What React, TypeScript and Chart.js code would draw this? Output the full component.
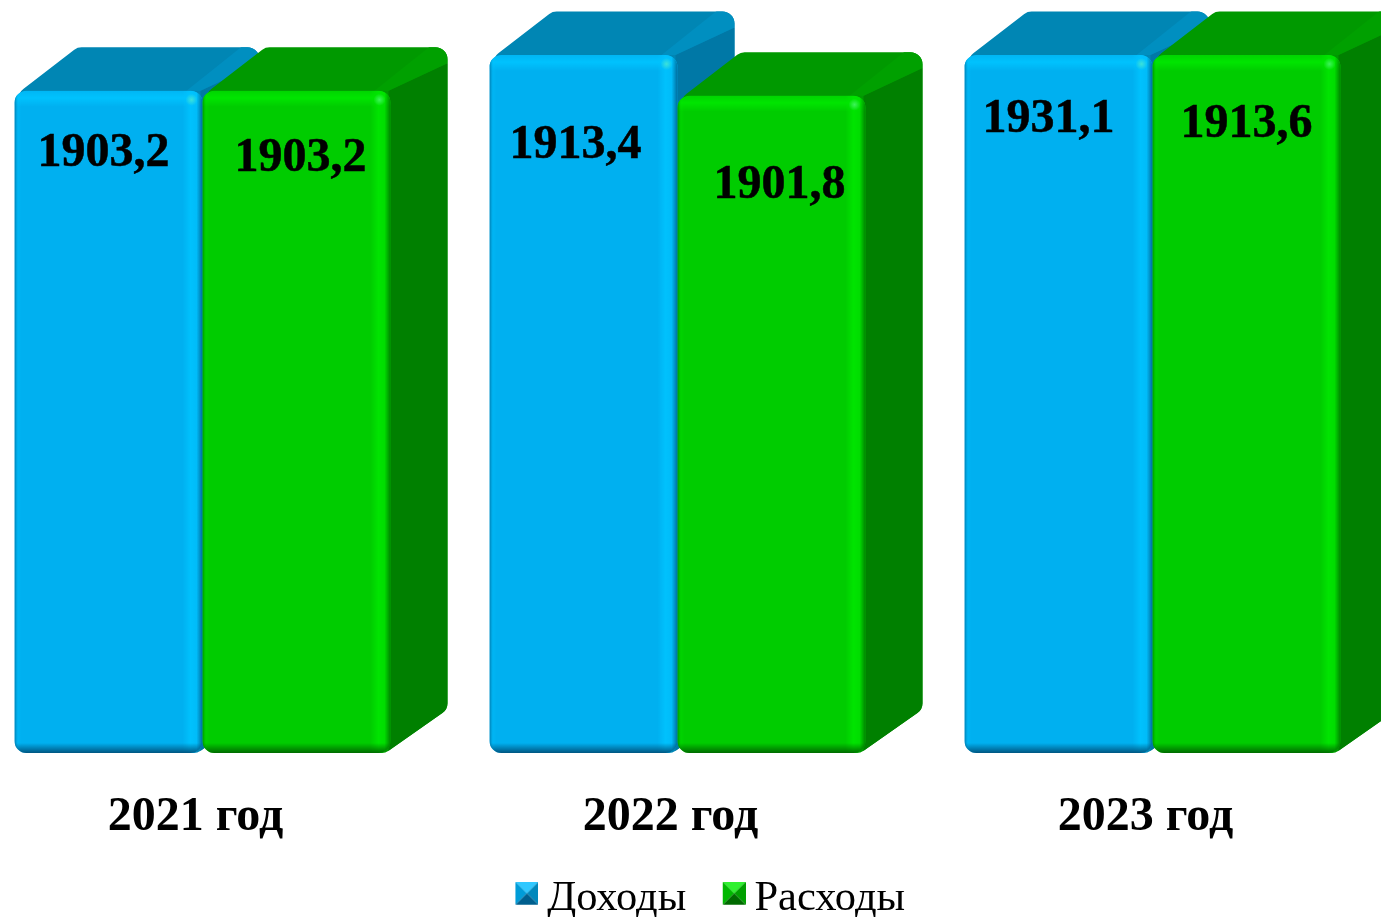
import React, { useEffect, useRef } from "react";
import { Chart, registerables } from "chart.js";

Chart.register(...registerables);

const categories = ["2021 год", "2022 год", "2023 год"];
const income = [1903.2, 1913.4, 1931.1];
const expense = [1903.2, 1901.8, 1913.6];
const seriesNames = ["Доходы", "Расходы"];

const FONT = '"Liberation Serif", "Times New Roman", serif';
const DEPTH_X = 57;
const DEPTH_Y = 43.5;
const RADIUS = 12;
const CANVAS_LEFT = -35;

const palettes = [
  { front: "#00B0F0", top: "#0086B4", strip: "#008FC0", side: "#0078A6", light: "0,196,255", dark: "0,70,110", icon: ["#30C8FF", "#009CD8", "#0088BC", "#005F8E"] },
  { front: "#00CC00", top: "#009900", strip: "#00A000", side: "#008000", light: "0,232,0", dark: "0,90,0", icon: ["#30F030", "#00B800", "#00A000", "#006A00"] },
];
// label placement relative to the top-centre of each bar, per series
const labelDx = [[-5, -8, -10], [4, 8, 0]];
const labelDy = [[63, 91, 65], [68, 90, 70]];

function roundedPoly(ctx: CanvasRenderingContext2D, pts: number[][], r: number) {
  const n = pts.length;
  ctx.beginPath();
  const m = [(pts[n - 1][0] + pts[0][0]) / 2, (pts[n - 1][1] + pts[0][1]) / 2];
  ctx.moveTo(m[0], m[1]);
  for (let i = 0; i < n; i++) {
    const a = pts[i];
    const b = pts[(i + 1) % n];
    ctx.arcTo(a[0], a[1], b[0], b[1], r);
  }
  ctx.closePath();
}

function barBoxes(chart: any, index: number) {
  const meta = chart.getDatasetMeta(index);
  const { top, bottom } = chart.chartArea;
  return meta.data.map((el: any) => {
    const p = el.getProps(["x", "y", "base", "width"], true);
    return { x0: p.x - p.width / 2, x1: p.x + p.width / 2, y0: Math.max(p.y, top), y1: Math.min(p.base, bottom) };
  });
}

function makeIcon(colors: string[]) {
  const s = 23;
  const padLeft = 4;
  const padBottom = 12;
  const c = document.createElement("canvas");
  c.width = s + padLeft;
  c.height = s + padBottom;
  const g = c.getContext("2d")!;
  g.translate(padLeft, 0);
  const tri = (pts: number[][], col: string) => {
    g.fillStyle = col;
    g.beginPath();
    g.moveTo(pts[0][0], pts[0][1]);
    g.lineTo(pts[1][0], pts[1][1]);
    g.lineTo(pts[2][0], pts[2][1]);
    g.closePath();
    g.fill();
  };
  const m = s / 2;
  tri([[0, 0], [s, 0], [m, m]], colors[0]);
  tri([[0, 0], [0, s], [m, m]], colors[1]);
  tri([[s, 0], [s, s], [m, m]], colors[2]);
  tri([[0, s], [s, s], [m, m]], colors[3]);
  return c;
}

function drawDepth(ctx: CanvasRenderingContext2D, pal: any, b: any) {
  const outline = [
    [b.x0 + 4, b.y0 + 2],
    [b.x0 + 6 + DEPTH_X, b.y0 - DEPTH_Y],
    [b.x1 + DEPTH_X, b.y0 - DEPTH_Y],
    [b.x1 + DEPTH_X, b.y1 - DEPTH_Y],
    [b.x1 - 5, b.y1],
    [b.x0 + 20, b.y1],
  ];
  ctx.save();
  roundedPoly(ctx, outline, RADIUS);
  ctx.clip();
  ctx.fillStyle = pal.top;
  ctx.fillRect(b.x0, b.y0 - DEPTH_Y - 2, b.x1 - b.x0 + DEPTH_X + 2, b.y1 - b.y0 + DEPTH_Y + 4);
  ctx.fillStyle = pal.side;
  ctx.beginPath();
  ctx.moveTo(b.x1 - 2, b.y0);
  ctx.lineTo(b.x1 + DEPTH_X + 2, b.y0 - DEPTH_Y + 15);
  ctx.lineTo(b.x1 + DEPTH_X + 2, b.y1);
  ctx.lineTo(b.x1 - 2, b.y1);
  ctx.closePath();
  ctx.fill();
  ctx.fillStyle = pal.strip;
  ctx.beginPath();
  ctx.moveTo(b.x1 - 16, b.y0);
  ctx.lineTo(b.x1 - 2, b.y0);
  ctx.lineTo(b.x1 + DEPTH_X + 2, b.y0 - DEPTH_Y + 15);
  ctx.lineTo(b.x1 + DEPTH_X + 2, b.y0 - DEPTH_Y - 2);
  ctx.lineTo(b.x1 + DEPTH_X - 16, b.y0 - DEPTH_Y - 2);
  ctx.closePath();
  ctx.fill();
  ctx.restore();
}

function drawBevel(ctx: CanvasRenderingContext2D, pal: any, b: any) {
  const grad = (x0: number, y0: number, x1: number, y1: number, stops: [number, string][]) => {
    const g = ctx.createLinearGradient(x0, y0, x1, y1);
    stops.forEach(([o, c]) => g.addColorStop(o, c));
    return g;
  };
  const L = `rgba(${pal.light},`;
  const D = `rgba(${pal.dark},`;
  ctx.fillStyle = grad(0, b.y0, 0, b.y0 + 16, [[0, L + "0.3)"], [0.45, L + "0.9)"], [1, L + "0)"]]);
  ctx.fillRect(b.x0, b.y0, b.x1 - b.x0, 16);
  ctx.fillStyle = grad(b.x1 - 20, 0, b.x1, 0, [[0, L + "0)"], [0.4, L + "0.85)"], [0.7, L + "0.6)"], [1, D + "0.65)"]]);
  ctx.fillRect(b.x1 - 20, b.y0, 20, b.y1 - b.y0);
  ctx.fillStyle = grad(b.x0, 0, b.x0 + 7, 0, [[0, D + "0.5)"], [0.5, L + "0.25)"], [1, L + "0)"]]);
  ctx.fillRect(b.x0, b.y0, 7, b.y1 - b.y0);
  ctx.fillStyle = grad(0, b.y1 - 10, 0, b.y1, [[0, D + "0)"], [1, D + "0.85)"]]);
  ctx.fillRect(b.x0, b.y1 - 10, b.x1 - b.x0, 10);
  const gl = ctx.createRadialGradient(b.x1 - 11, b.y0 + 9, 0, b.x1 - 11, b.y0 + 9, 6);
  gl.addColorStop(0, "rgba(120,255,180,0.5)");
  gl.addColorStop(1, "rgba(120,255,180,0)");
  ctx.fillStyle = gl;
  ctx.fillRect(b.x1 - 18, b.y0 + 2, 14, 14);
}

const bars3d = {
  id: "bars3d",
  // Paint series in data order so the green block overlaps the blue one.
  beforeDatasetsDraw(chart: any) {
    const ctx: CanvasRenderingContext2D = chart.ctx;
    chart.data.datasets.forEach((_: any, s: number) => {
      const pal = palettes[s];
      const boxes = barBoxes(chart, s);
      boxes.forEach((b: any) => drawDepth(ctx, pal, b));
      ctx.save();
      ctx.beginPath();
      boxes.forEach((b: any) => (ctx as any).roundRect(b.x0, b.y0, b.x1 - b.x0, b.y1 - b.y0, RADIUS));
      ctx.clip();
      chart.getDatasetMeta(s).controller.draw();
      boxes.forEach((b: any) => drawBevel(ctx, pal, b));
      ctx.restore();
    });
    ctx.save();
    ctx.font = `bold 48px ${FONT}`;
    ctx.fillStyle = "#000";
    ctx.strokeStyle = "#000";
    ctx.lineWidth = 0.5;
    ctx.textAlign = "center";
    ctx.textBaseline = "middle";
    chart.data.datasets.forEach((ds: any, s: number) => {
      barBoxes(chart, s).forEach((b: any, i: number) => {
        const text = Number(ds.data[i]).toFixed(1).replace(".", ",");
        const x = (b.x0 + b.x1) / 2 + labelDx[s][i];
        const y = b.y0 + labelDy[s][i];
        ctx.fillText(text, x, y);
        ctx.strokeText(text, x, y);
      });
    });
    ctx.restore();
    return false;
  },
  afterLayout(chart: any) {
    const lg = chart.legend;
    if (lg) {
      const h = lg.height;
      lg.top = 833;
      lg.bottom = lg.top + h;
      lg.left += 37;
      lg.right += 37;
    }
    // let the year labels hang below the compact axis box without being cut
    chart.scales.x.bottom = chart.height;
  },
};

export default function App() {
  const ref = useRef<HTMLCanvasElement>(null);
  useEffect(() => {
    const icons = palettes.map((p) => makeIcon(p.icon));
    const chart = new Chart(ref.current!, {
      type: "bar",
      plugins: [bars3d],
      data: {
        labels: categories,
        datasets: [
          { label: seriesNames[0], data: income, backgroundColor: palettes[0].front, barThickness: 188 },
          { label: seriesNames[1], data: expense, backgroundColor: palettes[1].front, barThickness: 188 },
        ],
      },
      options: {
        responsive: false,
        animation: false,
        devicePixelRatio: 1,
        layout: { padding: { top: 55, left: 0, right: 0, bottom: 0 } },
        scales: {
          x: {
            grid: { display: false },
            border: { display: false },
            ticks: { color: "#000", font: { family: FONT, size: 48, weight: "bold" }, padding: 28, labelOffset: -7, maxRotation: 0 },
            afterFit(scale: any) {
              scale.height = 66.5;
            },
          },
          y: { display: false, min: 1714.3, max: 1913.4 },
        },
        plugins: {
          tooltip: { enabled: false },
          title: { display: false },
          legend: {
            display: true,
            position: "bottom",
            labels: {
              color: "#000",
              font: { family: FONT, size: 42.5 },
              usePointStyle: true,
              boxWidth: 2,
              padding: 45,
              generateLabels(c: any) {
                const items = (Chart.defaults.plugins.legend.labels as any).generateLabels(c);
                return items.map((it: any, i: number) => ({ ...it, pointStyle: icons[i] }));
              },
            },
          },
        },
      },
    } as any);
    return () => chart.destroy();
  }, []);
  return (
    <div style={{ position: "fixed", inset: 0, overflow: "hidden", background: "#fff" }}>
      <canvas ref={ref} width={1425} height={917} style={{ position: "absolute", left: CANVAS_LEFT, top: 0, width: 1425, height: 917, display: "block" }} />
    </div>
  );
}
